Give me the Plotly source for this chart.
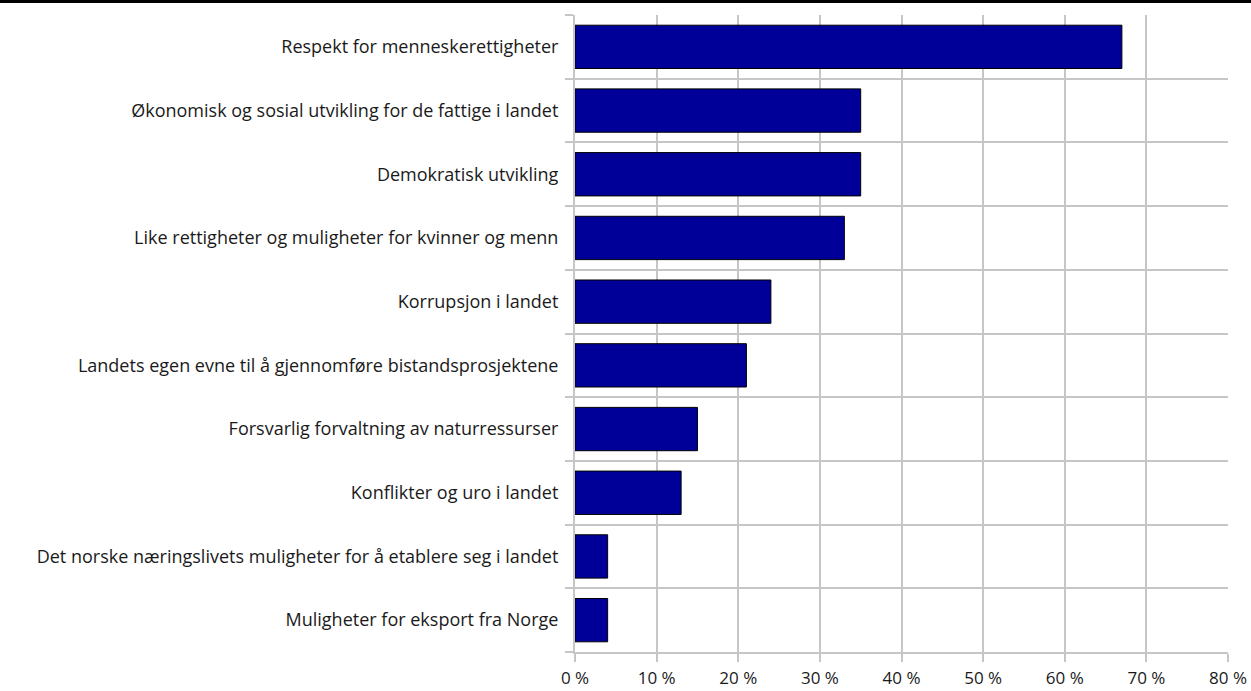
import plotly.graph_objects as go

# Survey categories, top to bottom
categories = [
    "Respekt for menneskerettigheter",
    "Økonomisk og sosial utvikling for de fattige i landet",
    "Demokratisk utvikling",
    "Like rettigheter og muligheter for kvinner og menn",
    "Korrupsjon i landet",
    "Landets egen evne til å gjennomføre bistandsprosjektene",
    "Forsvarlig forvaltning av naturressurser",
    "Konflikter og uro i landet",
    "Det norske næringslivets muligheter for å etablere seg i landet",
    "Muligheter for eksport fra Norge",
]
values = [67, 35, 35, 33, 24, 21, 15, 13, 4, 4]
x_ticks = [0, 10, 20, 30, 40, 50, 60, 70, 80]
x_labels = [f"{t} %" for t in x_ticks]

positions = list(range(len(categories)))
boundaries = [p - 0.5 for p in positions] + [positions[-1] + 0.5]

grid = "#c6c6c6"

fig = go.Figure()
fig.add_trace(go.Bar(
    x=values, y=positions, orientation="h",
    marker=dict(color="#000099", line=dict(color="#000000", width=1)),
    width=0.68, hoverinfo="x+text", hovertext=categories,
))

fig.update_layout(
    width=1251, height=691,
    margin=dict(l=575, r=23, t=15, b=39, autoexpand=False),
    plot_bgcolor="white", paper_bgcolor="white",
    font=dict(family="Open Sans", size=18, color="#1a1a1a"),
    showlegend=False,
)

fig.update_xaxes(
    range=[0, 80], tickvals=x_ticks, ticktext=x_labels,
    tickfont=dict(size=17),
    showgrid=True, gridcolor=grid, gridwidth=2,
    ticks="outside", ticklen=8, tickcolor=grid, tickwidth=2,
    ticklabelstandoff=2,
    showline=True, linecolor=grid, linewidth=2,
    zeroline=False, fixedrange=True, automargin=False,
)
fig.update_yaxes(
    range=[len(categories) - 0.5, -0.5],
    tickvals=positions, ticktext=categories,
    showgrid=False, ticks="", ticklabelstandoff=11,
    minor=dict(tickvals=boundaries, showgrid=True, gridcolor=grid, gridwidth=2,
               ticks="outside", ticklen=8, tickcolor=grid, tickwidth=2),
    showline=True, linecolor=grid, linewidth=2,
    zeroline=False, fixedrange=True, automargin=False,
)

# thick black rule across the top of the page
fig.add_shape(type="line", xref="paper", yref="paper",
              x0=-575 / 653, x1=1 + 23 / 653,
              y0=1 + 13.5 / 637, y1=1 + 13.5 / 637,
              line=dict(color="black", width=3))

fig.write_html("out.html", config={"displayModeBar": False},
               post_script="document.body.style.margin='0';")
